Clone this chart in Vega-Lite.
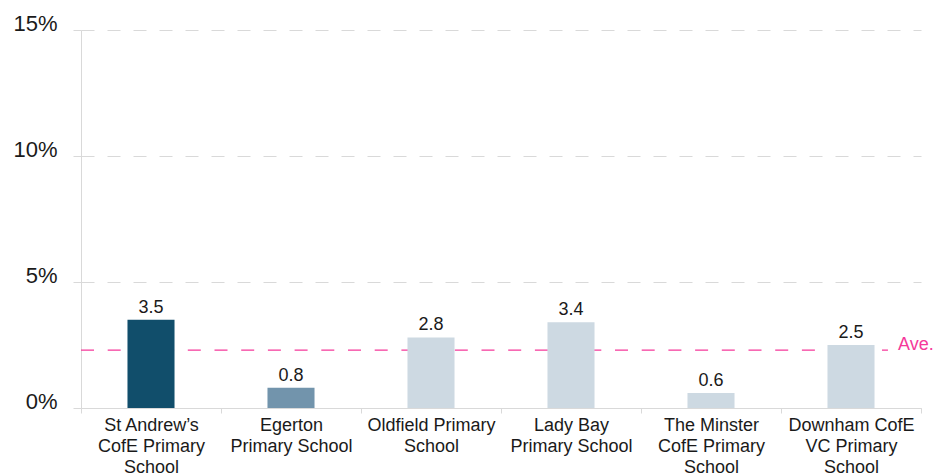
{
  "$schema": "https://vega.github.io/schema/vega-lite/v6.json",
  "width": 840,
  "height": 378,
  "autosize": {"type": "none"},
  "padding": {"left": 81, "top": 30, "right": 13, "bottom": 67},
  "background": "white",
  "config": {
    "view": {"stroke": null},
    "font": "Liberation Sans",
    "text": {"font": "Liberation Sans"}
  },
  "datasets": {
    "schools": [
      {"school": "St Andrew’s CofE Primary School", "value": 3.5},
      {"school": "Egerton Primary School", "value": 0.8},
      {"school": "Oldfield Primary School", "value": 2.8},
      {"school": "Lady Bay Primary School", "value": 3.4},
      {"school": "The Minster CofE Primary School", "value": 0.6},
      {"school": "Downham CofE VC Primary School", "value": 2.5}
    ],
    "average": [{"label": "Ave.", "value": 2.3}]
  },
  "layer": [
    {
      "data": {"name": "average"},
      "mark": {"type": "rule", "color": "#f5399a", "strokeWidth": 1.3, "strokeDash": [13, 13.7]},
      "encoding": {
        "y": {"field": "value", "type": "quantitative"},
        "x": {"datum": "St Andrew’s CofE Primary School", "bandPosition": 0},
        "x2": {"datum": "Downham CofE VC Primary School", "bandPosition": 0.764}
      }
    },
    {
      "data": {"name": "schools"},
      "mark": {"type": "bar", "width": {"band": 0.336}},
      "encoding": {
        "x": {
          "field": "school",
          "type": "nominal",
          "sort": null,
          "title": null,
          "scale": {
            "domain": ["St Andrew’s CofE Primary School", "Egerton Primary School", "Oldfield Primary School", "Lady Bay Primary School", "The Minster CofE Primary School", "Downham CofE VC Primary School"],
            "paddingInner": 0,
            "paddingOuter": 0
          },
          "axis": {
            "labelAngle": 0,
            "labelAlign": "center",
            "labelFont": "Liberation Sans",
            "labelFontSize": 18,
            "labelLineHeight": 21,
            "labelColor": "#1a1a1a",
            "labelPadding": 3,
            "labelBaseline": "top",
            "tickBand": "extent",
            "tickSize": 5,
            "tickColor": "#d9d9d9",
            "domainColor": "#d9d9d9",
            "grid": false,
            "labelExpr": "datum.value == 'St Andrew’s CofE Primary School' ? ['St Andrew’s','CofE Primary','School'] : datum.value == 'Egerton Primary School' ? ['Egerton','Primary School'] : datum.value == 'Oldfield Primary School' ? ['Oldfield Primary','School'] : datum.value == 'Lady Bay Primary School' ? ['Lady Bay','Primary School'] : datum.value == 'The Minster CofE Primary School' ? ['The Minster','CofE Primary','School'] : datum.value == 'Downham CofE VC Primary School' ? ['Downham CofE','VC Primary','School'] : ''"
          }
        },
        "y": {
          "field": "value",
          "type": "quantitative",
          "title": null,
          "scale": {"domain": [0, 15], "nice": false},
          "axis": {
            "values": [0, 5, 10, 15],
            "labelExpr": "datum.value + '%'",
            "labelFont": "Liberation Sans",
            "labelFontSize": 22,
            "labelColor": "#1a1a1a",
            "labelBaseline": "alphabetic",
            "labelPadding": 16,
            "tickSize": 8,
            "tickColor": "#d9d9d9",
            "domainColor": "#d9d9d9",
            "grid": true,
            "gridColor": "#d9d9d9",
            "gridDash": [13, 13]
          }
        },
        "color": {
          "field": "school",
          "type": "nominal",
          "legend": null,
          "scale": {
            "domain": ["St Andrew’s CofE Primary School", "Egerton Primary School", "Oldfield Primary School", "Lady Bay Primary School", "The Minster CofE Primary School", "Downham CofE VC Primary School"],
            "range": ["#114e6b", "#7294ac", "#cdd9e2", "#cdd9e2", "#cdd9e2", "#cdd9e2"]
          }
        }
      }
    },
    {
      "data": {"name": "schools"},
      "mark": {"type": "text", "baseline": "alphabetic", "dy": -7, "fontSize": 18, "color": "#1a1a1a", "font": "Liberation Sans"},
      "encoding": {
        "x": {"field": "school", "type": "nominal", "sort": null},
        "y": {"field": "value", "type": "quantitative"},
        "text": {"field": "value", "type": "quantitative", "format": ".1f"}
      }
    },
    {
      "data": {"name": "average"},
      "mark": {"type": "text", "align": "left", "baseline": "alphabetic", "fontSize": 18, "color": "#f5399a", "font": "Liberation Sans"},
      "encoding": {
        "y": {"field": "value", "type": "quantitative"},
        "x": {"datum": "Downham CofE VC Primary School", "bandPosition": 0.836},
        "text": {"field": "label"}
      }
    }
  ]
}
